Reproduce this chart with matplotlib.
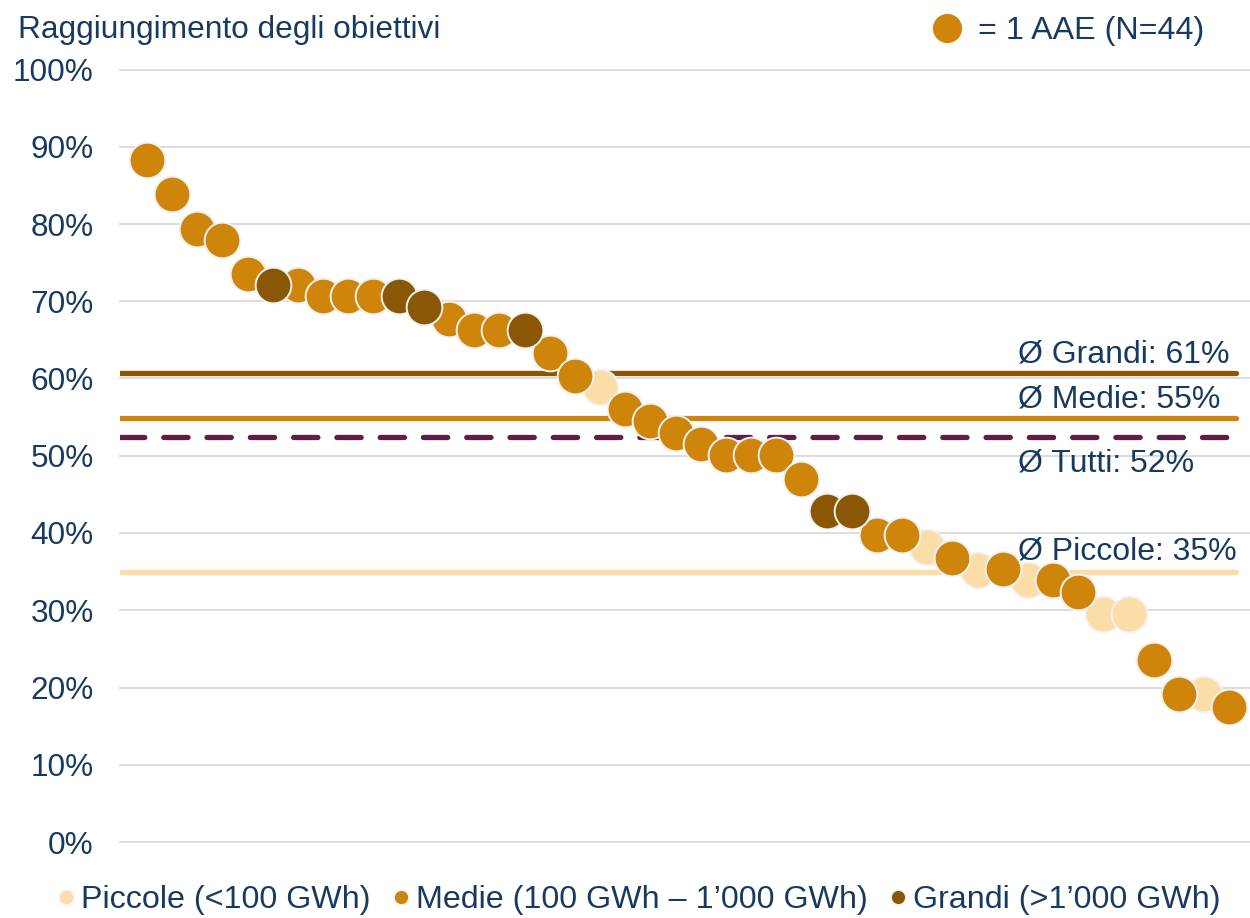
import numpy as np
import matplotlib.pyplot as plt
from matplotlib.lines import Line2D

plt.rcParams['font.family'] = ['Liberation Sans', 'DejaVu Sans']

# raggiungimento degli obiettivi per AAE (%), ordinato in modo decrescente
valori = [88.3, 83.9, 79.4, 77.9, 73.5, 72.1, 72.1, 70.7, 70.7, 70.7,
          70.7, 69.2, 67.7, 66.3, 66.3, 66.3, 63.3, 60.3, 58.9, 56.0,
          54.5, 53.0, 51.5, 50.1, 50.1, 50.1, 47.0, 42.8, 42.8, 39.7,
          39.7, 38.2, 36.8, 35.2, 35.3, 33.9, 33.9, 32.3, 29.5, 29.5,
          23.5, 19.2, 19.2, 17.5]
# P = piccole, M = medie, G = grandi
classe = ['M', 'M', 'M', 'M', 'M', 'G', 'M', 'M', 'M', 'M',
          'G', 'G', 'M', 'M', 'M', 'G', 'M', 'M', 'P', 'M',
          'M', 'M', 'M', 'M', 'M', 'M', 'M', 'G', 'G', 'M',
          'M', 'P', 'M', 'P', 'M', 'P', 'M', 'M', 'P', 'P',
          'M', 'M', 'P', 'M']

gruppi = ['P', 'M', 'G']
nomi_legenda = ['Piccole (<100 GWh)', 'Medie (100 GWh \u2013 1\u2019000 GWh)',
                'Grandi (>1\u2019000 GWh)']
nomi_media = {'G': 'Grandi', 'M': 'Medie', 'T': 'Tutti', 'P': 'Piccole'}
colori = {'P': '#FCDDA8', 'M': '#CF840A', 'G': '#8A5706', 'T': '#5C1F48'}
testo = '#183A60'

valori = np.array(valori)
classe = np.array(classe)
x = np.arange(len(valori))

medie = {g: valori[classe == g].mean() for g in gruppi}
medie['T'] = valori.mean()

fig = plt.figure(figsize=(12.5, 9.18), dpi=100)
ax = fig.add_axes([0.096, 1 - 842 / 918, 1130 / 1250, (842 - 69.5) / 918])

ax.set_ylim(0, 100)
ax.set_xlim(-1.07, 43.82)
ax.set_yticks(np.arange(0, 101, 10))
ax.set_yticklabels([f'{v}%' for v in range(0, 101, 10)])
ax.tick_params(axis='y', length=0, pad=19, labelsize=22.7, labelcolor=testo)
ax.set_xticks([])
for s in ax.spines.values():
    s.set_visible(False)
ax.grid(axis='y', color='#D9D9D9', linewidth=1.3, zorder=0)
for gl in ax.get_ygridlines():
    gl.set_clip_on(False)

# linee delle medie
for g in ['G', 'M', 'P']:
    ax.axhline(medie[g], xmin=0, xmax=0.988, color=colori[g], linewidth=3.8,
               solid_capstyle='round', zorder=1)
ax.axhline(medie['T'], xmin=0, xmax=0.988, color=colori['T'], linewidth=3.8,
           dashes=(4.6, 3.6), dash_capstyle='round', zorder=1)

offset = {'G': 1.4, 'M': 1.4, 'T': -4.5, 'P': 1.6}
for g in ['G', 'M', 'T', 'P']:
    ax.text(0.795, medie[g] + offset[g], f'\u00d8 {nomi_media[g]}: {medie[g]:.0f}%',
            transform=ax.get_yaxis_transform(), fontsize=23, color=testo,
            ha='left', va='baseline', zorder=2)

# punti: un cerchio per AAE
for g in gruppi:
    m = classe == g
    ax.scatter(x[m], valori[m], s=660, color=colori[g], edgecolor='#F2F2F2',
               linewidth=1.4, zorder=3, clip_on=False)

fig.text(18 / 1250, 1 - 30 / 918, 'Raggiungimento degli obiettivi', fontsize=22.8,
         color=testo, ha='left', va='center')

# legenda in alto a destra
fig.legend(handles=[Line2D([], [], linestyle='none', marker='o', markersize=21,
                           markerfacecolor=colori['M'], markeredgecolor='none')],
           labels=['= 1 AAE (N=44)'], loc='center left',
           bbox_to_anchor=(933 / 1250, 1 - 31 / 918), frameon=False,
           fontsize=23.2, labelcolor=testo, handlelength=0.9, handletextpad=0.5,
           borderpad=0, borderaxespad=0)

# legenda delle classi in basso
maniglie = [Line2D([], [], linestyle='none', marker='o', markersize=10.5,
                   markerfacecolor=colori[g], markeredgecolor='#F2F2F2',
                   markeredgewidth=1.0) for g in gruppi]
fig.legend(handles=maniglie, labels=nomi_legenda, loc='center',
           bbox_to_anchor=(0.511, 1 - 900 / 918), ncol=3, frameon=False,
           fontsize=23.2, labelcolor=testo, handlelength=0.55, handletextpad=0.2,
           columnspacing=0.65, borderpad=0, borderaxespad=0)

fig.savefig('out.png', dpi=100)
